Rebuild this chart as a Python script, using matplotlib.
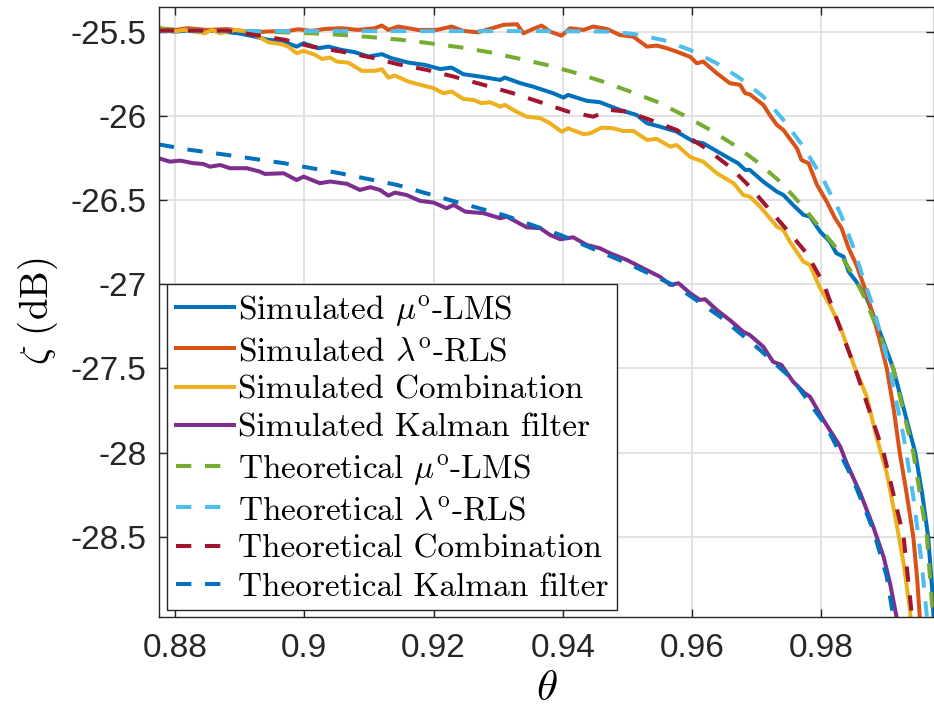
import matplotlib
matplotlib.use('Agg')
import matplotlib.pyplot as plt

# ---- data ----
sim_lms_x = [0.8775, 0.8800, 0.8830, 0.8860, 0.8898, 0.8924, 0.8944, 0.8965, 0.8988, 0.8999,
             0.9022, 0.9037, 0.9058, 0.9078, 0.9099, 0.9120, 0.9135, 0.9161, 0.9187, 0.9210,
             0.9228, 0.9246, 0.9272, 0.9303, 0.9310, 0.9334, 0.9354, 0.9385, 0.9401, 0.9408,
             0.9437, 0.9457, 0.9488, 0.9514, 0.9530, 0.9550, 0.9576, 0.9602, 0.9617, 0.9648,
             0.9671, 0.9682, 0.9689, 0.9710, 0.9731, 0.9741, 0.9756, 0.9772, 0.9782, 0.9798,
             0.9813, 0.9823, 0.9834, 0.9842, 0.9854, 0.9870, 0.9890, 0.9911, 0.9930, 0.9945,
             0.9956, 0.9965, 0.9971, 0.9975]
sim_lms_y = [-25.490, -25.500, -25.490, -25.495, -25.510, -25.530, -25.549, -25.555, -25.589, -25.569,
             -25.599, -25.589, -25.609, -25.622, -25.648, -25.634, -25.658, -25.684, -25.698, -25.722,
             -25.714, -25.753, -25.767, -25.787, -25.773, -25.806, -25.827, -25.866, -25.892, -25.876,
             -25.911, -25.919, -25.965, -25.995, -26.044, -26.064, -26.094, -26.153, -26.163, -26.232,
             -26.282, -26.321, -26.321, -26.391, -26.450, -26.470, -26.529, -26.588, -26.598, -26.688,
             -26.747, -26.816, -26.836, -26.925, -26.985, -27.083, -27.280, -27.500, -27.780, -28.000,
             -28.250, -28.500, -28.800, -29.100]

sim_rls_x = [0.8775, 0.8800, 0.8820, 0.8850, 0.8880, 0.8924, 0.8940, 0.8975, 0.8991, 0.9011,
             0.9032, 0.9058, 0.9083, 0.9109, 0.9120, 0.9130, 0.9145, 0.9176, 0.9205, 0.9228,
             0.9246, 0.9269, 0.9287, 0.9308, 0.9329, 0.9339, 0.9354, 0.9367, 0.9380, 0.9398,
             0.9411, 0.9432, 0.9447, 0.9468, 0.9488, 0.9509, 0.9530, 0.9545, 0.9561, 0.9576,
             0.9597, 0.9607, 0.9617, 0.9638, 0.9658, 0.9674, 0.9682, 0.9689, 0.9710, 0.9720,
             0.9731, 0.9741, 0.9762, 0.9769, 0.9780, 0.9793, 0.9808, 0.9821, 0.9831, 0.9842,
             0.9854, 0.9867, 0.9878, 0.9890, 0.9901, 0.9912, 0.9921, 0.9932, 0.9942, 0.9948,
             0.9952, 0.9954]
sim_rls_y = [-25.480, -25.490, -25.480, -25.490, -25.485, -25.504, -25.500, -25.496, -25.486, -25.496,
             -25.484, -25.480, -25.490, -25.480, -25.464, -25.490, -25.470, -25.490, -25.490, -25.470,
             -25.496, -25.504, -25.484, -25.460, -25.456, -25.510, -25.484, -25.464, -25.500, -25.524,
             -25.480, -25.490, -25.470, -25.484, -25.520, -25.530, -25.589, -25.583, -25.599, -25.619,
             -25.650, -25.688, -25.678, -25.747, -25.806, -25.816, -25.866, -25.872, -25.935, -25.995,
             -26.054, -26.084, -26.193, -26.262, -26.282, -26.410, -26.509, -26.608, -26.667, -26.786,
             -26.885, -27.024, -27.163, -27.330, -27.500, -27.750, -28.000, -28.250, -28.500, -28.750,
             -28.974, -29.100]

sim_comb_x = [0.8769, 0.8779, 0.8795, 0.8815, 0.8846, 0.8857, 0.8870, 0.8893, 0.8913, 0.8934,
              0.8944, 0.8965, 0.8975, 0.8988, 0.8999, 0.9017, 0.9027, 0.9040, 0.9050, 0.9068,
              0.9089, 0.9109, 0.9120, 0.9130, 0.9140, 0.9161, 0.9180, 0.9200, 0.9215, 0.9228,
              0.9246, 0.9262, 0.9274, 0.9287, 0.9303, 0.9310, 0.9328, 0.9344, 0.9365, 0.9380,
              0.9398, 0.9408, 0.9432, 0.9442, 0.9460, 0.9478, 0.9493, 0.9509, 0.9530, 0.9545,
              0.9566, 0.9576, 0.9597, 0.9617, 0.9638, 0.9664, 0.9679, 0.9689, 0.9705, 0.9731,
              0.9741, 0.9751, 0.9772, 0.9782, 0.9798, 0.9813, 0.9829, 0.9849, 0.9870, 0.9885,
              0.9901, 0.9916, 0.9927, 0.9937, 0.9939]
sim_comb_y = [-25.460, -25.480, -25.500, -25.490, -25.510, -25.490, -25.510, -25.490, -25.500, -25.540,
              -25.563, -25.575, -25.589, -25.628, -25.615, -25.638, -25.662, -25.654, -25.678, -25.684,
              -25.733, -25.733, -25.723, -25.773, -25.761, -25.797, -25.816, -25.836, -25.866, -25.856,
              -25.900, -25.906, -25.925, -25.919, -25.945, -25.935, -25.975, -26.005, -26.014, -26.044,
              -26.094, -26.074, -26.109, -26.104, -26.070, -26.074, -26.090, -26.090, -26.143, -26.137,
              -26.183, -26.173, -26.245, -26.272, -26.341, -26.400, -26.470, -26.480, -26.539, -26.658,
              -26.678, -26.747, -26.866, -26.885, -27.024, -27.123, -27.252, -27.470, -27.667, -27.905,
              -28.122, -28.419, -28.657, -28.934, -29.100]

sim_kal_x = [0.8775, 0.8792, 0.8808, 0.8828, 0.8844, 0.8854, 0.8870, 0.8885, 0.8911, 0.8931,
             0.8939, 0.8968, 0.8988, 0.8999, 0.9024, 0.9040, 0.9066, 0.9086, 0.9102, 0.9117,
             0.9130, 0.9140, 0.9158, 0.9179, 0.9200, 0.9220, 0.9231, 0.9249, 0.9277, 0.9303,
             0.9313, 0.9344, 0.9365, 0.9380, 0.9396, 0.9416, 0.9437, 0.9457, 0.9473, 0.9499,
             0.9524, 0.9550, 0.9566, 0.9579, 0.9597, 0.9612, 0.9620, 0.9638, 0.9658, 0.9679,
             0.9689, 0.9710, 0.9725, 0.9738, 0.9756, 0.9774, 0.9782, 0.9803, 0.9829, 0.9839,
             0.9860, 0.9880, 0.9896, 0.9906, 0.9916, 0.9918]
sim_kal_y = [-26.252, -26.272, -26.266, -26.281, -26.286, -26.302, -26.292, -26.311, -26.311, -26.331,
             -26.345, -26.341, -26.381, -26.361, -26.400, -26.390, -26.404, -26.440, -26.424, -26.440,
             -26.474, -26.456, -26.470, -26.505, -26.515, -26.549, -26.529, -26.569, -26.578, -26.608,
             -26.598, -26.662, -26.667, -26.707, -26.733, -26.721, -26.767, -26.786, -26.816, -26.856,
             -26.905, -26.955, -27.004, -26.994, -27.054, -27.093, -27.089, -27.153, -27.212, -27.282,
             -27.301, -27.371, -27.460, -27.479, -27.578, -27.647, -27.667, -27.806, -27.964, -28.063,
             -28.241, -28.439, -28.618, -28.776, -28.974, -29.100]

th_lms_x = [0.8775, 0.8900, 0.9011, 0.9060, 0.9104, 0.9151, 0.9194, 0.9241, 0.9287, 0.9329,
            0.9375, 0.9416, 0.9462, 0.9504, 0.9545, 0.9586, 0.9628, 0.9669, 0.9700, 0.9736,
            0.9769, 0.9798, 0.9823, 0.9849, 0.9867, 0.9911, 0.9942, 0.9963, 0.9971, 0.9975]
th_lms_y = [-25.485, -25.495, -25.510, -25.520, -25.533, -25.549, -25.569, -25.593, -25.623, -25.658,
            -25.698, -25.741, -25.797, -25.856, -25.916, -25.995, -26.084, -26.183, -26.272, -26.391,
            -26.529, -26.667, -26.786, -26.945, -27.083, -27.500, -28.000, -28.500, -28.900, -29.100]

th_rls_x = [0.8775, 0.9000, 0.9200, 0.9380, 0.9473, 0.9509, 0.9555, 0.9597, 0.9638, 0.9674,
            0.9710, 0.9741, 0.9772, 0.9803, 0.9829, 0.9849, 0.9867, 0.9880, 0.9906, 0.9927,
            0.9942, 0.9955, 0.9963, 0.9966]
th_rls_y = [-25.497, -25.497, -25.497, -25.497, -25.500, -25.514, -25.550, -25.609, -25.688, -25.777,
            -25.886, -26.024, -26.183, -26.381, -26.577, -26.777, -26.994, -27.133, -27.509, -27.905,
            -28.261, -28.657, -28.974, -29.100]

th_comb_x = [0.8775, 0.8880, 0.8924, 0.8970, 0.9011, 0.9058, 0.9104, 0.9145, 0.9189, 0.9231,
             0.9277, 0.9323, 0.9365, 0.9408, 0.9447, 0.9473, 0.9499, 0.9535, 0.9576, 0.9617,
             0.9658, 0.9689, 0.9720, 0.9751, 0.9777, 0.9803, 0.9852, 0.9896, 0.9927, 0.9940,
             0.9944]
th_comb_y = [-25.494, -25.494, -25.520, -25.549, -25.589, -25.619, -25.654, -25.694, -25.727, -25.767,
             -25.816, -25.866, -25.919, -25.975, -26.005, -25.965, -25.975, -26.024, -26.084, -26.183,
             -26.302, -26.420, -26.559, -26.697, -26.816, -26.994, -27.500, -28.000, -28.500, -28.974,
             -29.100]

th_kal_x = [0.8775, 0.8823, 0.8880, 0.8968, 0.9055, 0.9143, 0.9225, 0.9308, 0.9396, 0.9499,
            0.9576, 0.9643, 0.9705, 0.9756, 0.9808, 0.9849, 0.9880, 0.9901, 0.9911, 0.9914]
th_kal_y = [-26.170, -26.202, -26.232, -26.281, -26.341, -26.410, -26.500, -26.589, -26.707, -26.875,
            -27.014, -27.192, -27.390, -27.568, -27.846, -28.162, -28.459, -28.736, -28.974, -29.100]

labels = [r'Simulated $\mu^{\mathrm{o}}$-LMS', r'Simulated $\lambda^{\mathrm{o}}$-RLS',
          'Simulated Combination', 'Simulated Kalman filter',
          r'Theoretical $\mu^{\mathrm{o}}$-LMS', r'Theoretical $\lambda^{\mathrm{o}}$-RLS',
          'Theoretical Combination', 'Theoretical Kalman filter']

xticks = [0.88, 0.90, 0.92, 0.94, 0.96, 0.98]
xtick_labels = ['0.88', '0.9', '0.92', '0.94', '0.96', '0.98']
yticks = [-28.5, -28.0, -27.5, -27.0, -26.5, -26.0, -25.5]
ytick_labels = ['-28.5', '-28', '-27.5', '-27', '-26.5', '-26', '-25.5']

# ---- style ----
plt.rcParams['mathtext.fontset'] = 'cm'
plt.rcParams['font.family'] = ['Liberation Sans', 'DejaVu Sans']
plt.rcParams['axes.unicode_minus'] = False

colors = ['#0072BD', '#D95319', '#EDB120', '#7E2F8E',
          '#77AC30', '#4DBEEE', '#A2142F', '#0072BD']
xs = [sim_lms_x, sim_rls_x, sim_comb_x, sim_kal_x, th_lms_x, th_rls_x, th_comb_x, th_kal_x]
ys = [sim_lms_y, sim_rls_y, sim_comb_y, sim_kal_y, th_lms_y, th_rls_y, th_comb_y, th_kal_y]

fig = plt.figure(figsize=(9.34, 7.11), dpi=100)
ax = fig.add_axes([0.1705, 0.1326, 0.829, 0.858])

for i in range(8):
    if i < 4:
        ax.plot(xs[i], ys[i], color=colors[i], lw=2.9, label=labels[i])
    else:
        ax.plot(xs[i], ys[i], color=colors[i], lw=2.9, dashes=(3.8, 3.4), label=labels[i])

ax.set_xlim(0.87756, 0.99733)
ax.set_ylim(-28.974, -25.352)
ax.set_xticks(xticks, labels=xtick_labels)
ax.set_yticks(yticks, labels=ytick_labels)
ax.grid(True, color='#e0e0e0', lw=1.3)
ax.set_axisbelow(True)
for s in ax.spines.values():
    s.set_color('#262626')
    s.set_linewidth(1.0)
ax.tick_params(direction='in', length=6, width=1, top=True, right=True,
               labelsize=24, colors='#262626')
ax.tick_params(axis='x', pad=11.5)
ax.tick_params(axis='y', pad=9)

ax.set_xlabel(r'$\theta$', fontsize=31, labelpad=4)
ax.set_ylabel(r'$\zeta$ (dB)', fontsize=28, family='cmr10', labelpad=8)

leg = ax.legend(loc='lower left', bbox_to_anchor=(0.0105, 0.011), borderaxespad=0,
                prop={'family': 'cmr10', 'size': 24}, handlelength=1.75, handletextpad=0.12,
                labelspacing=0.27, borderpad=0.25, fancybox=False, framealpha=1,
                edgecolor='#262626')
leg.get_frame().set_linewidth(1.0)

fig.savefig('out.png', dpi=100)
